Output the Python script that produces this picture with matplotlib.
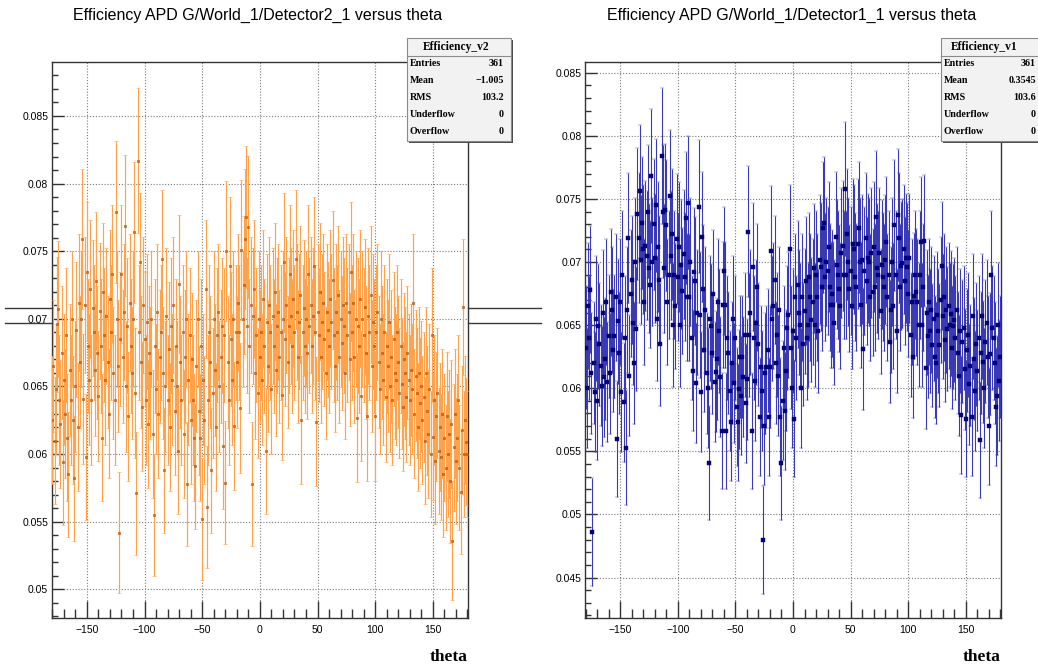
import numpy as np
import matplotlib
matplotlib.use("Agg")
import matplotlib.pyplot as plt
from matplotlib.patches import Rectangle
from matplotlib.lines import Line2D
from matplotlib.ticker import MultipleLocator, FuncFormatter

# ---------------------------------------------------------------- data
# one bin per degree of theta, -180 ... 180
theta = np.arange(-180, 181)

# efficiency of G/World_1/Detector2_1 per theta bin
eff_det2 = [
    0.0625, 0.0665, 0.0610, 0.0648, 0.0696, 0.0707, 0.0640, 0.0622, 0.0675, 0.0594, 0.0655, 0.0630, 0.0688, 0.0612, 0.0585, 0.0662, 0.0640, 0.0700, 0.0625, 0.0582,
    0.0650, 0.0692, 0.0620, 0.0712, 0.0668, 0.0700, 0.0759, 0.0641, 0.0710, 0.0598, 0.0735, 0.0680, 0.0655, 0.0722, 0.0640, 0.0708, 0.0690, 0.0662, 0.0728, 0.0675,
    0.0643, 0.0706, 0.0680, 0.0612, 0.0720, 0.0688, 0.0655, 0.0702, 0.0668, 0.0630, 0.0715, 0.0690, 0.0733, 0.0660, 0.0640, 0.0779, 0.0700, 0.0665, 0.0542, 0.0685,
    0.0733, 0.0672, 0.0705, 0.0769, 0.0650, 0.0695, 0.0628, 0.0712, 0.0680, 0.0660, 0.0700, 0.0764, 0.0645, 0.0571, 0.0817, 0.0690, 0.0742, 0.0668, 0.0635, 0.0710,
    0.0685, 0.0640, 0.0698, 0.0622, 0.0675, 0.0660, 0.0700, 0.0615, 0.0555, 0.0680, 0.0648, 0.0705, 0.0630, 0.0672, 0.0690, 0.0744, 0.0660, 0.0588, 0.0650, 0.0702,
    0.0640, 0.0678, 0.0620, 0.0695, 0.0655, 0.0710, 0.0632, 0.0680, 0.0650, 0.0602, 0.0726, 0.0668, 0.0640, 0.0690, 0.0615, 0.0672, 0.0700, 0.0578, 0.0655, 0.0688,
    0.0625, 0.0670, 0.0640, 0.0612, 0.0591, 0.0665, 0.0700, 0.0632, 0.0612, 0.0680, 0.0552, 0.0655, 0.0625, 0.0722, 0.0561, 0.0640, 0.0690, 0.0668, 0.0588, 0.0645,
    0.0700, 0.0662, 0.0620, 0.0688, 0.0705, 0.0650, 0.0672, 0.0695, 0.0606, 0.0688, 0.0579, 0.0750, 0.0668, 0.0640, 0.0739, 0.0685, 0.0655, 0.0700, 0.0621, 0.0690,
    0.0668, 0.0712, 0.0690, 0.0634, 0.0751, 0.0700, 0.0725, 0.0759, 0.0775, 0.0695, 0.0768, 0.0680, 0.0710, 0.0578, 0.0702, 0.0722, 0.0660, 0.0688, 0.0645, 0.0700,
    0.0672, 0.0690, 0.0655, 0.0715, 0.0680, 0.0602, 0.0698, 0.0665, 0.0710, 0.0690, 0.0648, 0.0702, 0.0680, 0.0720, 0.0662, 0.0695, 0.0705, 0.0672, 0.0690, 0.0644,
    0.0700, 0.0742, 0.0685, 0.0710, 0.0668, 0.0695, 0.0733, 0.0702, 0.0680, 0.0715, 0.0690, 0.0744, 0.0705, 0.0672, 0.0698, 0.0718, 0.0625, 0.0690, 0.0708, 0.0680,
    0.0700, 0.0675, 0.0733, 0.0695, 0.0710, 0.0680, 0.0702, 0.0739, 0.0690, 0.0624, 0.0705, 0.0688, 0.0720, 0.0672, 0.0698, 0.0712, 0.0685, 0.0660, 0.0705, 0.0692,
    0.0680, 0.0715, 0.0698, 0.0729, 0.0688, 0.0665, 0.0705, 0.0690, 0.0718, 0.0672, 0.0700, 0.0682, 0.0710, 0.0695, 0.0660, 0.0712, 0.0688, 0.0705, 0.0670, 0.0735,
    0.0690, 0.0712, 0.0672, 0.0700, 0.0627, 0.0695, 0.0680, 0.0715, 0.0643, 0.0700, 0.0688, 0.0709, 0.0675, 0.0628, 0.0702, 0.0690, 0.0718, 0.0665, 0.0698, 0.0680,
    0.0628, 0.0690, 0.0705, 0.0668, 0.0648, 0.0700, 0.0675, 0.0655, 0.0690, 0.0642, 0.0680, 0.0665, 0.0698, 0.0650, 0.0672, 0.0640, 0.0685, 0.0660, 0.0655, 0.0690,
    0.0668, 0.0645, 0.0680, 0.0652, 0.0635, 0.0670, 0.0660, 0.0642, 0.0675, 0.0655, 0.0640, 0.0662, 0.0648, 0.0712, 0.0630, 0.0658, 0.0645, 0.0620, 0.0660, 0.0638,
    0.0650, 0.0625, 0.0642, 0.0610, 0.0660, 0.0632, 0.0615, 0.0648, 0.0600, 0.0688, 0.0613, 0.0640, 0.0595, 0.0628, 0.0645, 0.0602, 0.0620, 0.0598, 0.0630, 0.0585,
    0.0612, 0.0590, 0.0628, 0.0600, 0.0615, 0.0580, 0.0622, 0.0536, 0.0605, 0.0630, 0.0595, 0.0612, 0.0640, 0.0590, 0.0572, 0.0618, 0.0709, 0.0600, 0.0625, 0.0609, 0.0600,
]

# efficiency of G/World_1/Detector1_1 per theta bin
eff_det1 = [
    0.0632, 0.0600, 0.0665, 0.0640, 0.0678, 0.0612, 0.0486, 0.0620, 0.0597, 0.0655, 0.0590, 0.0649, 0.0635, 0.0618, 0.0602, 0.0660, 0.0609, 0.0623, 0.0668, 0.0605,
    0.0641, 0.0612, 0.0676, 0.0662, 0.0630, 0.0641, 0.0672, 0.0560, 0.0653, 0.0628, 0.0668, 0.0597, 0.0690, 0.0589, 0.0640, 0.0553, 0.0662, 0.0719, 0.0610, 0.0675,
    0.0686, 0.0652, 0.0620, 0.0700, 0.0647, 0.0738, 0.0719, 0.0756, 0.0702, 0.0731, 0.0710, 0.0668, 0.0713, 0.0705, 0.0740, 0.0695, 0.0682, 0.0768, 0.0700, 0.0730,
    0.0703, 0.0745, 0.0655, 0.0712, 0.0686, 0.0635, 0.0784, 0.0740, 0.0695, 0.0741, 0.0729, 0.0668, 0.0690, 0.0752, 0.0705, 0.0722, 0.0650, 0.0690, 0.0665, 0.0718,
    0.0688, 0.0712, 0.0650, 0.0698, 0.0677, 0.0706, 0.0688, 0.0735, 0.0672, 0.0747, 0.0672, 0.0700, 0.0640, 0.0614, 0.0692, 0.0685, 0.0604, 0.0660, 0.0744, 0.0658,
    0.0597, 0.0720, 0.0679, 0.0630, 0.0662, 0.0612, 0.0600, 0.0541, 0.0655, 0.0649, 0.0628, 0.0675, 0.0605, 0.0613, 0.0623, 0.0668, 0.0645, 0.0609, 0.0566, 0.0666,
    0.0693, 0.0666, 0.0566, 0.0640, 0.0628, 0.0598, 0.0573, 0.0620, 0.0655, 0.0604, 0.0640, 0.0585, 0.0573, 0.0599, 0.0625, 0.0594, 0.0625, 0.0609, 0.0642, 0.0588,
    0.0607, 0.0724, 0.0642, 0.0660, 0.0566, 0.0696, 0.0640, 0.0606, 0.0652, 0.0680, 0.0635, 0.0577, 0.0617, 0.0598, 0.0480, 0.0570, 0.0612, 0.0617, 0.0630, 0.0577,
    0.0617, 0.0709, 0.0655, 0.0665, 0.0686, 0.0620, 0.0642, 0.0610, 0.0662, 0.0577, 0.0541, 0.0590, 0.0632, 0.0582, 0.0614, 0.0648, 0.0658, 0.0710, 0.0632, 0.0600,
    0.0645, 0.0576, 0.0672, 0.0640, 0.0682, 0.0660, 0.0650, 0.0600, 0.0672, 0.0635, 0.0661, 0.0685, 0.0640, 0.0650, 0.0688, 0.0672, 0.0654, 0.0668, 0.0695, 0.0650,
    0.0690, 0.0672, 0.0645, 0.0702, 0.0696, 0.0680, 0.0727, 0.0731, 0.0688, 0.0700, 0.0693, 0.0712, 0.0680, 0.0666, 0.0675, 0.0666, 0.0652, 0.0720, 0.0698, 0.0690,
    0.0679, 0.0665, 0.0707, 0.0713, 0.0690, 0.0758, 0.0690, 0.0722, 0.0700, 0.0679, 0.0693, 0.0665, 0.0714, 0.0710, 0.0688, 0.0680, 0.0714, 0.0727, 0.0700, 0.0666,
    0.0702, 0.0631, 0.0693, 0.0719, 0.0685, 0.0703, 0.0700, 0.0672, 0.0707, 0.0676, 0.0712, 0.0680, 0.0736, 0.0695, 0.0690, 0.0707, 0.0661, 0.0698, 0.0688, 0.0680,
    0.0702, 0.0716, 0.0672, 0.0690, 0.0637, 0.0662, 0.0700, 0.0665, 0.0729, 0.0690, 0.0645, 0.0737, 0.0719, 0.0680, 0.0697, 0.0699, 0.0710, 0.0685, 0.0703, 0.0696,
    0.0675, 0.0703, 0.0642, 0.0668, 0.0625, 0.0673, 0.0690, 0.0676, 0.0668, 0.0650, 0.0690, 0.0716, 0.0650, 0.0680, 0.0717, 0.0616, 0.0660, 0.0641, 0.0668, 0.0645,
    0.0662, 0.0634, 0.0655, 0.0625, 0.0620, 0.0658, 0.0645, 0.0634, 0.0670, 0.0697, 0.0657, 0.0672, 0.0638, 0.0662, 0.0647, 0.0665, 0.0650, 0.0659, 0.0632, 0.0649,
    0.0654, 0.0640, 0.0662, 0.0628, 0.0610, 0.0645, 0.0579, 0.0637, 0.0648, 0.0615, 0.0576, 0.0630, 0.0642, 0.0603, 0.0618, 0.0577, 0.0657, 0.0623, 0.0598, 0.0635,
    0.0614, 0.0640, 0.0559, 0.0628, 0.0657, 0.0621, 0.0600, 0.0637, 0.0652, 0.0625, 0.0570, 0.0627, 0.0690, 0.0648, 0.0640, 0.0620, 0.0585, 0.0594, 0.0650, 0.0606, 0.0625,
]

# number of generated photons per theta bin (binomial errors)
trials_det2 = 2600
trials_det1 = 2500

titles = ["Efficiency APD G/World_1/Detector2_1 versus theta",
          "Efficiency APD G/World_1/Detector1_1 versus theta"]
x_title = "theta"

stats_names = ["Efficiency_v2", "Efficiency_v1"]
stats_labels = ["Entries", "Mean", "RMS", "Underflow", "Overflow"]
stats_det2 = ["361", "\u22121.005", "103.2", "0", "0"]
stats_det1 = ["361", "0.3545", "103.6", "0", "0"]

# ---------------------------------------------------------------- figure
W, H = 1038, 667
plt.rcParams["font.family"] = ["Liberation Sans", "DejaVu Sans"]
fig = plt.figure(figsize=(W / 100, H / 100), dpi=100, facecolor="white")


def fx(px):
    return px / W


def fy(py):
    return 1 - py / H


def make_axes(left, right, top, bottom):
    return fig.add_axes([fx(left), fy(bottom), fx(right) - fx(left), fy(top) - fy(bottom)])


def style_axes(ax, ylim, ymajor_ticks):
    ax.set_xlim(-180.5, 180.5)
    ax.set_ylim(*ylim)
    ax.xaxis.set_major_locator(MultipleLocator(50))
    ax.xaxis.set_minor_locator(MultipleLocator(10))
    ax.set_yticks(ymajor_ticks)
    ax.yaxis.set_minor_locator(MultipleLocator(0.001))
    ax.yaxis.set_major_formatter(FuncFormatter(lambda v, p: "%g" % round(v, 4)))
    ax.tick_params(which="both", direction="in", top=False, right=False,
                   color="#333333", width=1.0, labelsize=7.5)
    ax.tick_params(axis="x", which="major", length=12.5, pad=4.5)
    ax.tick_params(axis="x", which="minor", length=6.5)
    ax.tick_params(axis="y", which="major", length=8.6, pad=2.5)
    ax.tick_params(axis="y", which="minor", length=4.5)
    for s in ax.spines.values():
        s.set_color("#333333")
        s.set_linewidth(1.0)
    ax.grid(True, which="major", linestyle=(0, (1, 1.6)), color="#7a7a7a", linewidth=0.8)
    ax.set_axisbelow(True)


def stats_box(left, right, top, bottom, title_cx, label_x, value_x, name, values):
    # shadow, then the box itself
    fig.add_artist(Rectangle((fx(left + 2), fy(bottom + 2)), fx(right) - fx(left),
                             fy(top) - fy(bottom), transform=fig.transFigure,
                             facecolor="#4a4a4a", edgecolor="none", zorder=5))
    fig.add_artist(Rectangle((fx(left), fy(bottom)), fx(right) - fx(left),
                             fy(top) - fy(bottom), transform=fig.transFigure,
                             facecolor="#f2f2f2", edgecolor="#8a8a8a", linewidth=0.8, zorder=6))
    fig.add_artist(Line2D([fx(left), fx(right)], [fy(top + 18), fy(top + 18)],
                          transform=fig.transFigure, color="#8a8a8a", linewidth=0.8, zorder=7))
    serif = dict(family=["Liberation Serif", "DejaVu Serif"], weight="bold", zorder=8)
    fig.text(fx(title_cx), fy(top + 9), name, ha="center", va="center", size=8.3, **serif)
    for i, (lab, val) in enumerate(zip(stats_labels, values)):
        yc = top + 25.5 + i * 17
        fig.text(fx(label_x), fy(yc), lab, ha="left", va="center", size=7.2, **serif)
        fig.text(fx(value_x), fy(yc), val, ha="right", va="center", size=7.2, **serif)


# left pad: Detector2_1
ax2 = make_axes(51.7, 468.0, 62.0, 618.3)
style_axes(ax2, (0.04786, 0.08899), np.arange(0.05, 0.0851, 0.005))
eff2 = np.asarray(eff_det2)
err2 = np.sqrt(eff2 * (1 - eff2) / trials_det2)
ax2.errorbar(theta, eff2, yerr=err2, fmt="s", ms=1.9, mfc="#e06a10", mec="#b4500a", mew=0.4,
             ecolor="#ffa24a", elinewidth=0.85, capsize=1.4, capthick=0.85, zorder=3)

# right pad: Detector1_1
ax1 = make_axes(585.0, 1001.0, 62.0, 618.3)
style_axes(ax1, (0.04177, 0.08585), np.arange(0.045, 0.0851, 0.005))
eff1 = np.asarray(eff_det1)
err1 = np.sqrt(eff1 * (1 - eff1) / trials_det1)
ax1.errorbar(theta, eff1, yerr=err1, fmt="s", ms=2.5, mfc="#000080", mec="#000070", mew=0.3,
             ecolor="#3a3ab6", elinewidth=0.8, capsize=1.4, capthick=0.8, zorder=3)

# pad titles and axis titles
fig.text(fx(258), fy(15), titles[0], ha="center", va="center", size=11.5)
fig.text(fx(792), fy(15), titles[1], ha="center", va="center", size=11.5)
xt = dict(family=["Liberation Serif", "DejaVu Serif"], weight="bold", size=12.5,
          ha="right", va="center")
fig.text(fx(468), fy(657), x_title, **xt)
fig.text(fx(1001), fy(657), x_title, **xt)

# statistics boxes
stats_box(406.7, 510.7, 38.0, 141.0, 456.5, 410.0, 504.0, stats_names[0], stats_det2)
stats_box(941.0, 1045.0, 38.0, 141.0, 984.5, 944.0, 1036.0, stats_names[1], stats_det1)

# pair of horizontal line segments at the pad borders
for yl in (308.3, 323.0):
    fig.add_artist(Line2D([fx(5), fx(51.7)], [fy(yl), fy(yl)], transform=fig.transFigure,
                          color="#3a3a3a", linewidth=1.0))
    fig.add_artist(Line2D([fx(468), fx(541)], [fy(yl), fy(yl)], transform=fig.transFigure,
                          color="#3a3a3a", linewidth=1.0))

fig.savefig("out.png", dpi=100, facecolor="white")
